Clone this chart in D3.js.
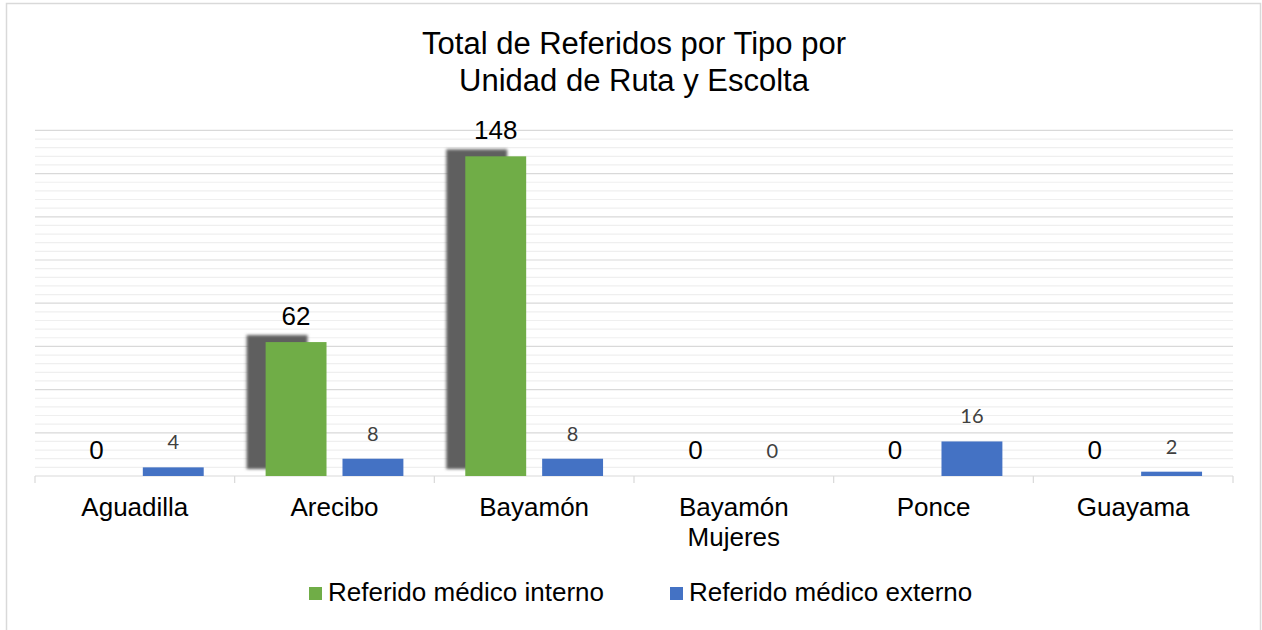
<!DOCTYPE html>
<html>
<head>
<meta charset="utf-8">
<style>
  body { margin: 0; background: #fff; }
  svg { display: block; font-family: "Liberation Sans", Arial, sans-serif; }
</style>
<title>Total de Referidos</title>
</head>
<body>
<script src="https://cdn.jsdelivr.net/npm/d3@7"></script>
<script>

// data
var categories = ["Aguadilla", "Arecibo", "Bayamón", "Bayamón Mujeres", "Ponce", "Guayama"];
var seriesNames = ["Referido médico interno", "Referido médico externo"];
var interno = [0, 62, 148, 0, 0, 0];
var externo = [4, 8, 8, 0, 16, 2];
var colors = ["#70ad47", "#4472c4"];

var totalWidth = 1262, totalHeight = 630;
var plot = {left: 35, right: 1233, top: 130.4, bottom: 476};

var svg = d3.select("body").append("svg")
    .attr("width", totalWidth)
    .attr("height", totalHeight);

// shadow filter for the green bars
var defs = svg.append("defs");
var f = defs.append("filter").attr("id", "blur")
    .attr("x", "-20%").attr("y", "-20%").attr("width", "140%").attr("height", "140%");
f.append("feGaussianBlur").attr("stdDeviation", 1.8);

// chart border
svg.append("rect")
    .attr("x", 6.5).attr("y", 3.5)
    .attr("width", 1254).attr("height", 700)
    .style("fill", "none")
    .style("stroke", "#d9d9d9")
    .style("stroke-width", 1.5);

// title
var title = svg.append("text")
    .attr("text-anchor", "middle")
    .style("font-size", "31px")
    .style("fill", "#000");
title.append("tspan").attr("x", 634).attr("y", 54).text("Total de Referidos por Tipo por");
title.append("tspan").attr("x", 634).attr("y", 91).text("Unidad de Ruta y Escolta");

/* scales */

var x0 = d3.scaleBand()
    .domain(categories)
    .range([plot.left, plot.right]);

var x1 = d3.scaleBand()
    .domain(seriesNames)
    .range([0, x0.bandwidth()])
    .paddingInner(16 / 77)
    .paddingOuter(0.4026);

var y = d3.scaleLinear()
    .domain([0, 160])
    .range([plot.bottom, plot.top]);

/* gridlines */

var minorTicks = d3.range(4, 160, 4).filter(function(d) { return d % 20 !== 0; });
var majorTicks = d3.range(20, 161, 20);

svg.append("g").selectAll("line")
    .data(minorTicks)
    .enter().append("line")
    .attr("x1", plot.left).attr("x2", plot.right)
    .attr("y1", function(d) { return y(d); })
    .attr("y2", function(d) { return y(d); })
    .style("stroke", "#efefef")
    .style("stroke-width", 1.2);

svg.append("g").selectAll("line")
    .data(majorTicks)
    .enter().append("line")
    .attr("x1", plot.left).attr("x2", plot.right)
    .attr("y1", function(d) { return y(d); })
    .attr("y2", function(d) { return y(d); })
    .style("stroke", "#d9d9d9")
    .style("stroke-width", 1.2);

/* x axis */

var axis = svg.append("g").attr("transform", "translate(0," + plot.bottom + ")");
axis.append("line")
    .attr("x1", plot.left).attr("x2", plot.right)
    .style("stroke", "#d9d9d9").style("stroke-width", 1.2);

var boundaries = categories.map(function(c) { return x0(c); }).concat([plot.right]);
axis.selectAll(".tick")
    .data(boundaries)
    .enter().append("line")
    .attr("x1", function(d) { return d; }).attr("x2", function(d) { return d; })
    .attr("y1", 0).attr("y2", 7)
    .style("stroke", "#d9d9d9").style("stroke-width", 1.2);

var labels = svg.append("g").selectAll("text")
    .data(categories)
    .enter().append("text")
    .attr("text-anchor", "middle")
    .style("font-size", "26px")
    .style("fill", "#000");

labels.each(function(d) {
    var words = d === "Bayamón Mujeres" ? ["Bayamón", "Mujeres"] : [d];
    var t = d3.select(this);
    words.forEach(function(w, i) {
        t.append("tspan")
            .attr("x", x0(d) + x0.bandwidth() / 2)
            .attr("y", 516 + i * 30)
            .text(w);
    });
});

/* bars */

var rows = categories.map(function(c, i) {
    return {cat: c, values: [interno[i], externo[i]]};
});

var groups = svg.append("g").selectAll("g")
    .data(rows)
    .enter().append("g")
    .attr("transform", function(d) { return "translate(" + x0(d.cat) + ",0)"; });

// shadow behind green bars
groups.filter(function(d) { return d.values[0] > 0; })
    .append("rect")
    .attr("x", x1(seriesNames[0]) - 19)
    .attr("y", function(d) { return y(d.values[0]) - 7; })
    .attr("width", x1.bandwidth())
    .attr("height", function(d) { return plot.bottom - y(d.values[0]); })
    .attr("filter", "url(#blur)")
    .style("fill", "#5e5e5e");

groups.selectAll(".bar")
    .data(function(d) { return d.values.map(function(v, j) { return {s: j, v: v}; }); })
    .enter().append("rect")
    .attr("class", "bar")
    .attr("x", function(d) { return x1(seriesNames[d.s]); })
    .attr("y", function(d) { return y(d.v); })
    .attr("width", x1.bandwidth())
    .attr("height", function(d) { return plot.bottom - y(d.v); })
    .style("fill", function(d) { return colors[d.s]; });

// value labels
groups.selectAll(".val")
    .data(function(d) { return d.values.map(function(v, j) { return {s: j, v: v}; }); })
    .enter().append("text")
    .attr("class", "val")
    .attr("text-anchor", "middle")
    .attr("x", function(d) { return x1(seriesNames[d.s]) + x1.bandwidth() / 2; })
    .attr("y", function(d) { return y(d.v) - (d.s === 0 ? 17 : 18); })
    .style("font-family", function(d) { return d.s === 0 ? "'Liberation Sans', Arial, sans-serif" : "Lato, 'Open Sans', sans-serif"; })
    .style("font-size", function(d) { return d.s === 0 ? "26px" : "20px"; })
    .style("fill", function(d) { return d.s === 0 ? "#000" : "#404040"; })
    .text(function(d) { return d.v; });

/* legend */

var legendX = [309, 670];
var legend = svg.append("g").selectAll("g")
    .data(seriesNames)
    .enter().append("g")
    .attr("transform", function(d, i) { return "translate(" + legendX[i] + ",587)"; });

legend.append("rect")
    .attr("width", 13).attr("height", 13)
    .style("fill", function(d, i) { return colors[i]; });

legend.append("text")
    .attr("x", 19).attr("y", 14)
    .style("font-size", "26px")
    .style("fill", "#000")
    .text(function(d) { return d; });

</script>
</body>
</html>
